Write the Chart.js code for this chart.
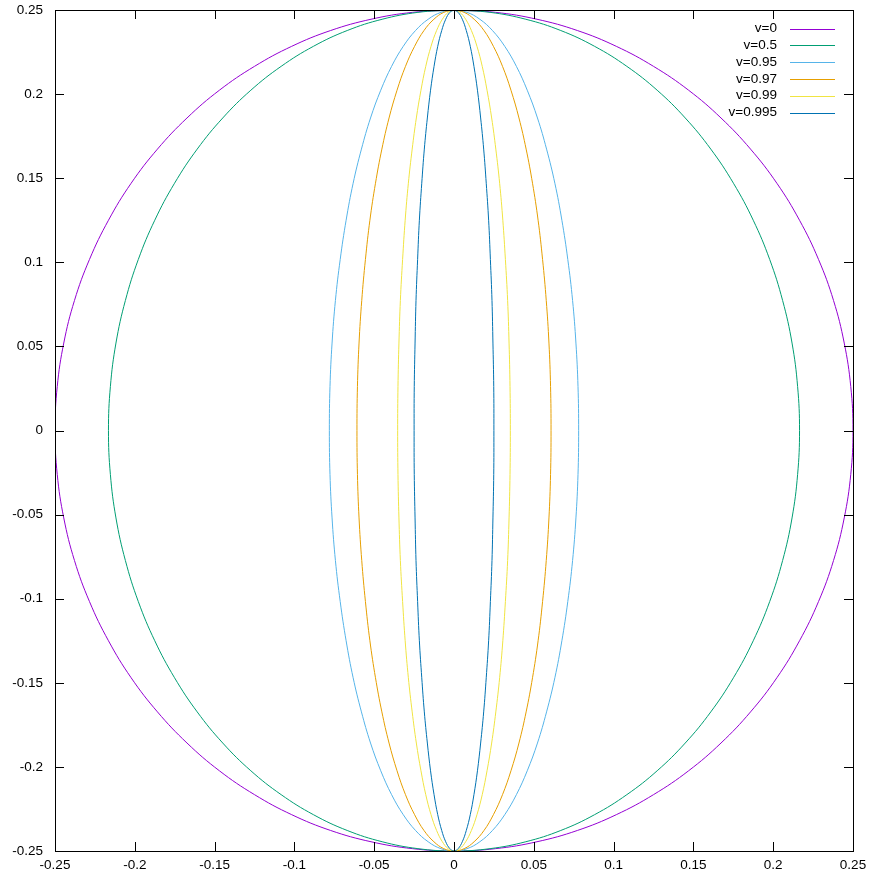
<!DOCTYPE html>
<html>
<head>
<meta charset="utf-8">
<script src="https://cdn.jsdelivr.net/npm/chart.js@4"></script>
<style>
  html, body { margin: 0; padding: 0; background: #fff; }
  #wrap { width: 869px; height: 882px; }
</style>
</head>
<body>
<div id="wrap"><canvas id="chart" width="869" height="882"></canvas></div>
<script>
// upper half y levels, top to bottom; each curve is symmetric about both axes
const yLevels = [0.25, 0.2486, 0.2445, 0.2378, 0.2284, 0.2165, 0.2023, 0.1858, 0.1673, 0.147, 0.125, 0.1017, 0.0773, 0.052, 0.0261, 0];

// half widths (x) of each curve at the y levels above
const x_v0    = [0, 0.0261, 0.0520, 0.0773, 0.1017, 0.1250, 0.1470, 0.1673, 0.1858, 0.2023, 0.2165, 0.2284, 0.2378, 0.2445, 0.2486, 0.2500];
const x_v05   = [0, 0.0226, 0.0450, 0.0669, 0.0881, 0.1083, 0.1273, 0.1449, 0.1609, 0.1751, 0.1875, 0.1978, 0.2059, 0.2118, 0.2153, 0.2165];
const x_v095  = [0, 0.0082, 0.0162, 0.0241, 0.0318, 0.0391, 0.0459, 0.0523, 0.0580, 0.0632, 0.0676, 0.0713, 0.0743, 0.0764, 0.0777, 0.0781];
const x_v097  = [0, 0.0064, 0.0126, 0.0188, 0.0247, 0.0304, 0.0357, 0.0407, 0.0452, 0.0492, 0.0527, 0.0555, 0.0578, 0.0595, 0.0605, 0.0608];
const x_v099  = [0, 0.0037, 0.0073, 0.0109, 0.0144, 0.0177, 0.0207, 0.0236, 0.0262, 0.0286, 0.0306, 0.0322, 0.0336, 0.0345, 0.0351, 0.0353];
const x_v0995 = [0, 0.0026, 0.0052, 0.0077, 0.0102, 0.0125, 0.0147, 0.0167, 0.0186, 0.0202, 0.0217, 0.0228, 0.0238, 0.0244, 0.0249, 0.0250];

const seriesLabels = ["v=0", "v=0.5", "v=0.95", "v=0.97", "v=0.99", "v=0.995"];
const seriesX = [x_v0, x_v05, x_v095, x_v097, x_v099, x_v0995];
const colors = ["#9400d3", "#009e73", "#56b4e9", "#e69f00", "#f0e442", "#0072b2"];

const tickValues = [-0.25, -0.2, -0.15, -0.1, -0.05, 0, 0.05, 0.1, 0.15, 0.2, 0.25];
const tickLabels = ["-0.25", "-0.2", "-0.15", "-0.1", "-0.05", "0", "0.05", "0.1", "0.15", "0.2", "0.25"];

// walk the closed outline: right side top->bottom, then left side bottom->top
function outline(xs) {
  const pts = [];
  for (let i = 0; i < yLevels.length; i++) pts.push({ x: xs[i], y: yLevels[i] });
  for (let i = yLevels.length - 2; i >= 0; i--) pts.push({ x: xs[i], y: -yLevels[i] });
  for (let i = 1; i < yLevels.length; i++) pts.push({ x: -xs[i], y: -yLevels[i] });
  for (let i = yLevels.length - 2; i >= 0; i--) pts.push({ x: -xs[i], y: yLevels[i] });
  return pts;
}

const FONT = "Liberation Sans, Arial, sans-serif";

// gnuplot-like frame: black border with inward ticks on all four sides
const framePlugin = {
  id: "frame",
  afterDraw(chart) {
    const { ctx, chartArea: a, scales } = chart;
    ctx.save();
    ctx.strokeStyle = "#000";
    ctx.lineWidth = 1;
    ctx.beginPath();
    tickValues.forEach(v => {
      const px = Math.round(scales.x.getPixelForValue(v)) + 0.5;
      const py = Math.round(scales.y.getPixelForValue(v)) + 0.5;
      ctx.moveTo(px, a.bottom); ctx.lineTo(px, a.bottom - 9);
      ctx.moveTo(px, a.top); ctx.lineTo(px, a.top + 9);
      ctx.moveTo(a.left, py); ctx.lineTo(a.left + 9, py);
      ctx.moveTo(a.right, py); ctx.lineTo(a.right - 9, py);
    });
    ctx.stroke();
    ctx.strokeRect(Math.round(a.left) + 0.5, Math.round(a.top) + 0.5,
      Math.round(a.right - a.left), Math.round(a.bottom - a.top));

    // key in the top right corner: label right-aligned, sample line after it
    ctx.font = "13.5px " + FONT;
    ctx.textAlign = "right";
    ctx.textBaseline = "middle";
    seriesLabels.forEach((lbl, i) => {
      const y = 28.5 + i * 16.8;
      ctx.fillStyle = "#000";
      ctx.fillText(lbl, 777, y);
      ctx.strokeStyle = colors[i];
      ctx.beginPath();
      ctx.moveTo(790, Math.round(y) + 0.5);
      ctx.lineTo(835, Math.round(y) + 0.5);
      ctx.stroke();
    });
    ctx.restore();
  }
};

const tickFont = { family: FONT, size: 13.5 };
const labelFor = v => tickLabels[tickValues.findIndex(t => Math.abs(t - v) < 1e-9)];

new Chart(document.getElementById("chart"), {
  type: "scatter",
  data: {
    datasets: seriesLabels.map((lbl, i) => ({
      label: lbl,
      data: outline(seriesX[i]),
      showLine: true,
      borderColor: colors[i],
      borderWidth: 1,
      pointRadius: 0,
      tension: 0.4,
      order: seriesLabels.length - i,
    })),
  },
  options: {
    responsive: false,
    animation: false,
    layout: { padding: { top: 10, right: 16, left: 0, bottom: 0 } },
    plugins: { legend: { display: false }, tooltip: { enabled: false } },
    scales: {
      x: {
        type: "linear", min: -0.25, max: 0.25,
        grid: { display: false, drawTicks: false },
        border: { display: false },
        afterBuildTicks: s => { s.ticks = tickValues.map(v => ({ value: v })); },
        afterFit: s => { s.height = 31; s.paddingLeft = 0; s.paddingRight = 0; },
        ticks: { color: "#000", font: tickFont, padding: 6, maxRotation: 0, autoSkip: false, callback: labelFor },
      },
      y: {
        type: "linear", min: -0.25, max: 0.25,
        grid: { display: false, drawTicks: false },
        border: { display: false },
        afterBuildTicks: s => { s.ticks = tickValues.map(v => ({ value: v })); },
        afterFit: s => { s.width = 55; s.paddingTop = 0; s.paddingBottom = 0; },
        ticks: { color: "#000", font: tickFont, padding: 12, autoSkip: false, callback: labelFor },
      },
    },
  },
  plugins: [framePlugin],
});
</script>
</body>
</html>
